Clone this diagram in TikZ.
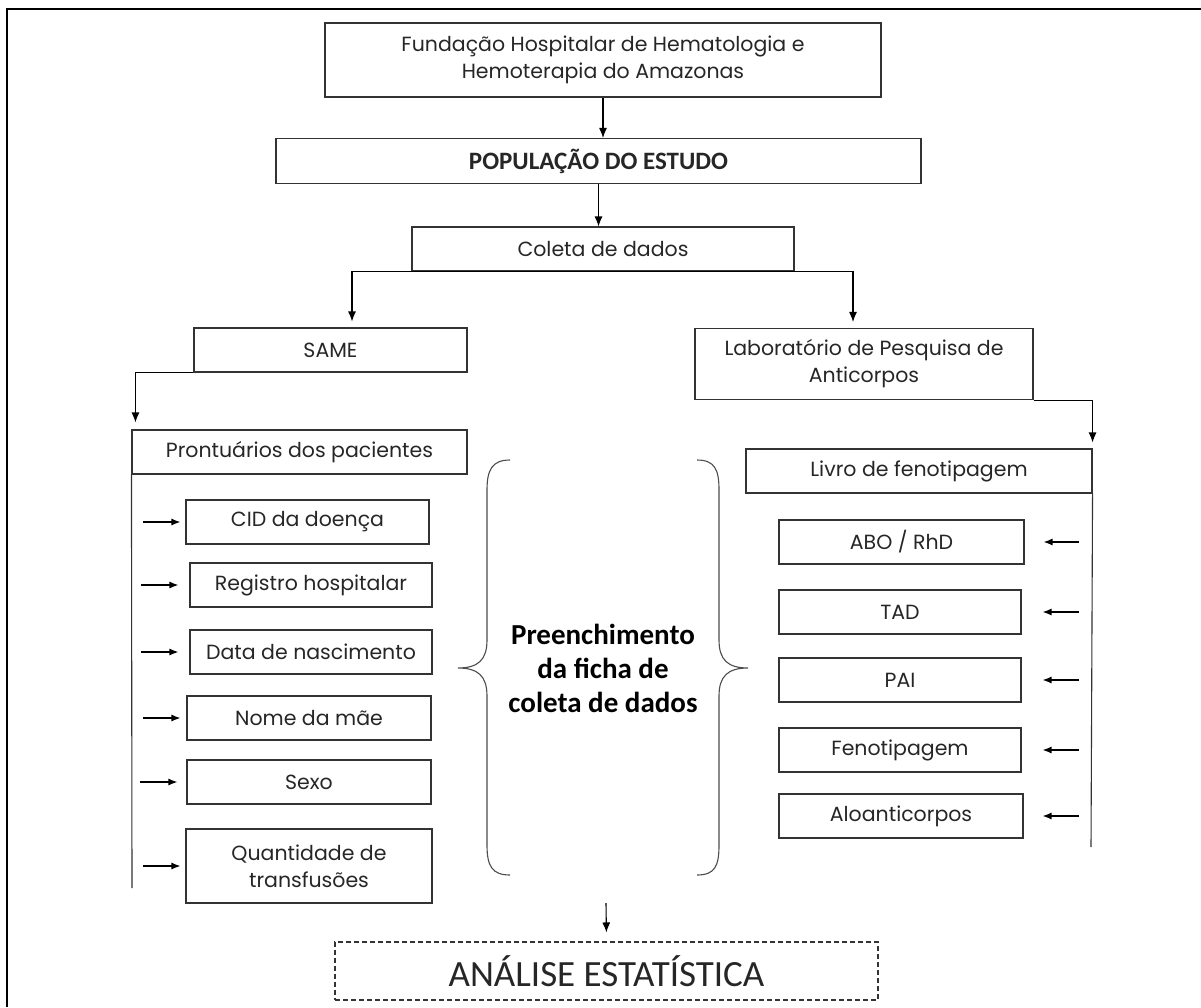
\documentclass[tikz,border=0pt]{standalone}
\usepackage{fontspec}
\setmainfont{Poppins}
\newfontfamily\calfont{Carlito}
\usetikzlibrary{arrows.meta}

\begin{document}
\begin{tikzpicture}[x=1pt,y=-1pt,
  caixa/.style={draw=black!80, line width=1.1pt, inner sep=0pt, align=center,
    text=black!85, font=\fontsize{20.5}{27}\selectfont},
  linha/.style={draw=black!80, line width=1.1pt},
  seta/.style={-{Latex[length=10pt,width=8pt]}, line width=1.1pt},
  setinha/.style={-{Latex[length=9pt,width=7pt]}, line width=1.2pt},
  chave/.style={draw=black!70, line width=1.1pt}]
\useasboundingbox (0,0) rectangle (1201,1007);
\draw[line width=2.5pt] (7,1007) -- (7,9) -- (1201,9); % moldura

\node[caixa, minimum width=556pt, minimum height=74pt] (fund) at (603,60) {Fundação Hospitalar de Hematologia e\\Hemoterapia do Amazonas};
\node[caixa, minimum width=645pt, minimum height=45pt, font=\calfont\bfseries\fontsize{25}{28}\selectfont] (pop) at (598.5,161) {POPULAÇÃO DO ESTUDO};
\node[caixa, minimum width=382pt, minimum height=44pt] (coleta) at (603,249) {Coleta de dados};
\node[caixa, minimum width=273pt, minimum height=44pt] (same) at (330.5,350) {SAME};
\node[caixa, minimum width=338pt, minimum height=71pt] (lab) at (864,364) {Laboratório de Pesquisa de\\Anticorpos};
\node[caixa, minimum width=335pt, minimum height=44pt] (pront) at (299.5,452) {Prontuários dos pacientes};
\node[caixa, minimum width=346pt, minimum height=44pt] (livro) at (919,471) {Livro de fenotipagem};

% dados do prontuario
\node[caixa, minimum width=243pt, minimum height=44pt] (cid) at (307.5,522) {CID da doença};
\node[caixa, minimum width=242pt, minimum height=44pt] (reg) at (311,585) {Registro hospitalar};
\node[caixa, minimum width=242pt, minimum height=44pt] (data) at (311,652) {Data de nascimento};
\node[caixa, minimum width=244pt, minimum height=44pt] (nome) at (309,718) {Nome da mãe};
\node[caixa, minimum width=244pt, minimum height=44pt] (sexo) at (309,782) {Sexo};
\node[caixa, minimum width=246pt, minimum height=74pt] (quant) at (309,866) {Quantidade de\\transfusões};

% dados do livro
\node[caixa, minimum width=245pt, minimum height=44pt] (abo) at (901.5,542) {ABO / RhD};
\node[caixa, minimum width=242pt, minimum height=44pt] (tad) at (900,612) {TAD};
\node[caixa, minimum width=242pt, minimum height=44pt] (pai) at (900,680) {PAI};
\node[caixa, minimum width=242pt, minimum height=44pt] (feno) at (900,750) {Fenotipagem};
\node[caixa, minimum width=244pt, minimum height=44pt] (alo) at (901,816) {Aloanticorpos};

\node[font=\calfont\bfseries\fontsize{29}{34}\selectfont, align=center] (ficha) at (603,668) {Preenchimento\\da ficha de\\coleta de dados};
\node[caixa, dashed, dash pattern=on 5pt off 3pt, minimum width=543pt, minimum height=58pt,
  font=\calfont\fontsize{37}{42}\selectfont] (analise) at (606.5,971) {ANÁLISE ESTATÍSTICA};

\coordinate (leftend) at (132,888);
\coordinate (rightend) at (1091,847);
\coordinate (fim) at (606,903);

% setas principais
\draw[seta] (fund.south) -- (fund.south |- pop.north);
\draw[seta] (pop.south) -- (pop.south |- coleta.north);
\draw[seta, shorten >=6pt] (coleta.south) -| ([xshift=21.5pt]same.north);
\draw[seta, shorten >=6pt] (coleta.south) -| ([xshift=-11pt]lab.north);
\draw[seta, shorten >=7pt] (same.south west) -| ([xshift=4pt]pront.north west);
\draw[seta, shorten >=6pt] (lab.south east) -| (livro.north east);
\draw[linha] (pront.south west) -- (leftend);
\draw[linha] (livro.south east) -- (rightend);
\draw[seta, shorten >=9pt] (fim) -- (analise.north);

% setas laterais
\draw[setinha, shorten <=11pt, shorten >=5pt] (cid.west -| leftend) -- (cid.west);
\draw[setinha, shorten <=9pt, shorten >=11pt] (reg.west -| leftend) -- (reg.west);
\draw[setinha, shorten <=9pt, shorten >=11pt] (data.west -| leftend) -- (data.west);
\draw[setinha, shorten <=11pt, shorten >=6pt] (nome.west -| leftend) -- (nome.west);
\draw[setinha, shorten <=8pt, shorten >=9pt] (sexo.west -| leftend) -- (sexo.west);
\draw[setinha, shorten <=11pt, shorten >=5pt] (quant.west -| leftend) -- (quant.west);
\draw[setinha, shorten <=12pt, shorten >=19pt] (abo.east -| rightend) -- (abo.east);
\draw[setinha, shorten <=12pt, shorten >=21pt] (tad.east -| rightend) -- (tad.east);
\draw[setinha, shorten <=12pt, shorten >=21pt] (pai.east -| rightend) -- (pai.east);
\draw[setinha, shorten <=12pt, shorten >=21pt] (feno.east -| rightend) -- (feno.east);
\draw[setinha, shorten <=12pt, shorten >=19pt] (alo.east -| rightend) -- (alo.east);

% chaves
\draw[chave] (510,460) .. controls (492,460) and (487,470) .. (487,490) -- (487,640)
  .. controls (487,660) and (478,668) .. (458,668) .. controls (478,668) and (487,676) .. (487,696)
  -- (487,845) .. controls (487,866) and (492,875) .. (510,875);
\draw[chave] (697,460) .. controls (715,460) and (719,470) .. (719,490) -- (719,640)
  .. controls (719,660) and (728,668) .. (748,668) .. controls (728,668) and (719,676) .. (719,696)
  -- (719,845) .. controls (719,866) and (715,875) .. (697,875);
\end{tikzpicture}
\end{document}
